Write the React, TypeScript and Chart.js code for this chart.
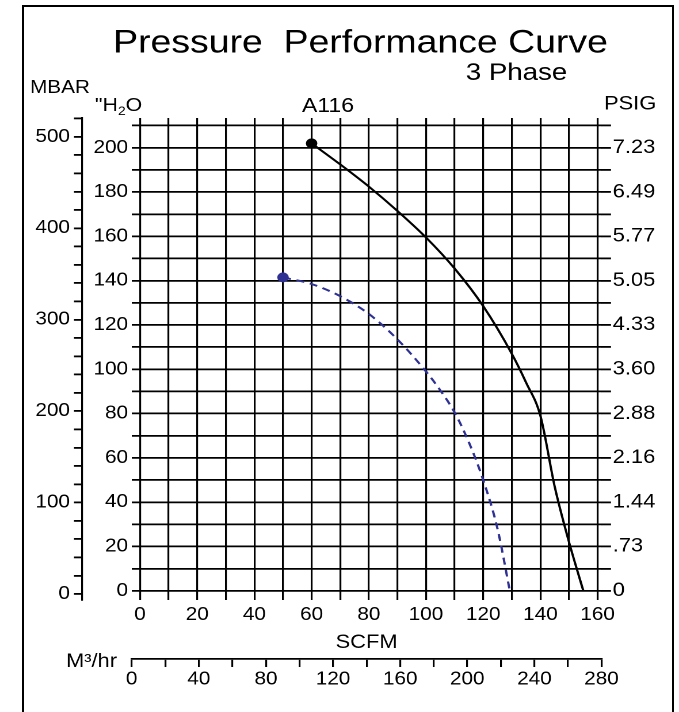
import React, { useEffect, useRef } from 'react';
import { Chart, registerables } from 'chart.js';

Chart.register(...registerables);

// ---------------- data ----------------
const scfmGrid = [0, 10, 20, 30, 40, 50, 60, 70, 80, 90, 100, 110, 120, 130, 140, 150, 160];
const h2oGrid = [0, 10, 20, 30, 40, 50, 60, 70, 80, 90, 100, 110, 120, 130, 140, 150, 160, 170, 180, 190, 200, 210];
const mbarTicks = [0, 20, 40, 60, 80, 100, 120, 140, 160, 180, 200, 220, 240, 260, 280, 300, 320, 340, 360, 380, 400, 420, 440, 460, 480, 500, 520];
const m3Ticks = [0, 20, 40, 60, 80, 100, 120, 140, 160, 180, 200, 220, 240, 260, 280];
const psigLabels = ['0', '.73', '1.44', '2.16', '2.88', '3.60', '4.33', '5.05', '5.77', '6.49', '7.23'];

const solidFlow = [60, 70, 80, 90, 100, 110, 120, 130, 135, 140, 145, 150, 155];
const solidPressure = [202, 192.5, 182.5, 171.5, 159.5, 145.5, 128.5, 107, 94, 79, 47, 22, 0];

const dashedFlow = [50, 60, 70, 80, 90, 100, 105, 110, 115, 120, 125, 129.3];
const dashedPressure = [141.5, 138.5, 133, 125, 113.5, 99, 90.5, 80.5, 67, 50, 28, 0];

// ---------------- styling ----------------
const FONT = '"Liberation Sans", Arial, Helvetica, sans-serif';
const BUF_W = 590;
const BUF_H = 712;
const S = 679 / BUF_W; // horizontal stretch of the sheet
const px = (x: number) => x / S;

type Txt = { text: string; x: number; y: number; size: number; align: CanvasTextAlign };
const sheetTexts: Txt[] = [
  { text: 'Pressure  Performance Curve', x: 360.5, y: 52.5, size: 32.5, align: 'center' },
  { text: '3 Phase', x: 516.5, y: 80, size: 24, align: 'center' },
  { text: 'A116', x: 302, y: 112, size: 20, align: 'left' },
  { text: 'MBAR', x: 30, y: 93, size: 18, align: 'left' },
  { text: 'PSIG', x: 604, y: 109.5, size: 19, align: 'left' },
  { text: 'M³/hr', x: 66, y: 667, size: 19, align: 'left' },
];

const sheetLabels = {
  id: 'sheetLabels',
  afterDraw(chart: any) {
    const ctx: CanvasRenderingContext2D = chart.ctx;
    ctx.save();
    ctx.fillStyle = '#000';
    ctx.textBaseline = 'alphabetic';
    for (const t of sheetTexts) {
      ctx.font = `${t.size}px ${FONT}`;
      ctx.textAlign = t.align;
      ctx.fillText(t.text, px(t.x), t.y);
    }
    // "H2O with subscript
    ctx.textAlign = 'left';
    let x = px(95);
    ctx.font = `18.5px ${FONT}`;
    ctx.fillText('"H', x, 111);
    x += ctx.measureText('"H').width;
    ctx.font = `12px ${FONT}`;
    ctx.fillText('2', x, 115);
    x += ctx.measureText('2').width;
    ctx.font = `18.5px ${FONT}`;
    ctx.fillText('O', x, 111);
    ctx.restore();
  },
};

const tickFont = (size: number) => ({ family: FONT, size });

export default function App() {
  const ref = useRef<HTMLCanvasElement>(null);

  useEffect(() => {
    const canvas = ref.current;
    if (!canvas) return;
    const chart = new Chart(canvas, {
      type: 'line',
      data: {
        datasets: [
          {
            label: 'A116 solid',
            data: solidFlow.map((x, i) => ({ x, y: solidPressure[i] })),
            borderColor: '#000',
            backgroundColor: '#000',
            borderWidth: 2,
            pointRadius: (c: any) => (c.dataIndex === 0 ? 5 : 0),
            pointBorderWidth: 0,
            pointBackgroundColor: '#000',
            cubicInterpolationMode: 'monotone',
            fill: false,
          },
          {
            label: 'A116 dashed',
            data: dashedFlow.map((x, i) => ({ x, y: dashedPressure[i] })),
            borderColor: '#2e3192',
            backgroundColor: '#2e3192',
            borderWidth: 2,
            borderDash: [7, 5],
            pointRadius: (c: any) => (c.dataIndex === 0 ? 5 : 0),
            pointBorderWidth: 0,
            pointBackgroundColor: '#2e3192',
            cubicInterpolationMode: 'monotone',
            fill: false,
          },
        ],
      },
      options: {
        responsive: false,
        devicePixelRatio: 2,
        animation: false,
        events: [],
        layout: { padding: { left: 10, right: 8, top: 118, bottom: 13 } },
        plugins: {
          legend: { display: false },
          tooltip: { enabled: false },
          title: { display: false },
        },
        scales: {
          x: {
            type: 'linear',
            axis: 'x',
            position: 'bottom',
            min: -2.9,
            max: 161.36,
            afterBuildTicks: (s: any) => {
              s.ticks = scfmGrid.map((v) => ({ value: v }));
            },
            afterFit: (s: any) => {
              s.height = 59;
            },
            ticks: {
              autoSkip: false,
              maxRotation: 0,
              padding: 4.2,
              color: '#000',
              font: tickFont(18),
              callback: (v: any) => (v % 20 === 0 ? String(v) : ''),
            },
            grid: { color: '#000', lineWidth: 1.6, drawTicks: false },
            border: { display: false },
            title: {
              display: true,
              text: 'SCFM',
              color: '#000',
              font: tickFont(19),
              padding: { top: 0, bottom: 4.6 },
            },
          },
          m3: {
            type: 'linear',
            axis: 'x',
            position: 'bottom',
            weight: 1,
            min: 0,
            max: 280,
            afterBuildTicks: (s: any) => {
              s.ticks = m3Ticks.map((v) => ({ value: v }));
            },
            afterFit: (s: any) => {
              s.height = 40;
            },
            ticks: {
              autoSkip: false,
              maxRotation: 0,
              padding: 1.5,
              color: '#000',
              font: tickFont(18),
              callback: (v: any) => (v % 40 === 0 ? String(v) : ''),
            },
            grid: { drawOnChartArea: false, drawTicks: true, tickLength: 8, color: '#000', lineWidth: 1.6 },
            border: { display: true, color: '#000', width: 1.8 },
          },
          y: {
            type: 'linear',
            axis: 'y',
            position: 'left',
            weight: 0,
            min: -4.15,
            max: 213.45,
            afterBuildTicks: (s: any) => {
              s.ticks = h2oGrid.map((v) => ({ value: v }));
            },
            afterFit: (s: any) => {
              s.width = 43.19;
            },
            ticks: {
              autoSkip: false,
              padding: 3.2,
              color: '#000',
              font: tickFont(18),
              callback: (v: any) => (v % 20 === 0 && v <= 200 ? String(v) : ''),
            },
            grid: { color: '#000', lineWidth: 1.8, drawTicks: false },
            border: { display: false },
          },
          mbar: {
            type: 'linear',
            axis: 'y',
            position: 'left',
            weight: 1,
            min: -6.56,
            max: 520.55,
            afterBuildTicks: (s: any) => {
              s.ticks = mbarTicks.map((v) => ({ value: v }));
            },
            afterFit: (s: any) => {
              s.width = 61.25;
            },
            ticks: {
              autoSkip: false,
              padding: 3.5,
              color: '#000',
              font: tickFont(18),
              callback: (v: any) => (v % 100 === 0 ? String(v) : ''),
            },
            grid: { drawOnChartArea: false, drawTicks: true, tickLength: 7, color: '#000', lineWidth: 1.8 },
            border: { display: true, color: '#000', width: 1.6 },
          },
          psig: {
            type: 'linear',
            axis: 'y',
            position: 'right',
            min: -4.15,
            max: 213.45,
            afterBuildTicks: (s: any) => {
              s.ticks = h2oGrid.map((v) => ({ value: v }));
            },
            afterFit: (s: any) => {
              s.width = 59.34;
            },
            ticks: {
              autoSkip: false,
              padding: 1.5,
              color: '#000',
              font: tickFont(19),
              callback: (v: any) => (v % 20 === 0 && v <= 200 ? psigLabels[v / 20] : ''),
            },
            grid: { drawOnChartArea: false, drawTicks: true, tickLength: 8.25, color: '#000', lineWidth: 1.8 },
            border: { display: false },
          },
        },
      } as any,
      plugins: [sheetLabels],
    } as any);
    return () => chart.destroy();
  }, []);

  return (
    <>
      <div
        style={{
          position: 'fixed',
          left: 22,
          top: 5,
          width: 652,
          height: 707,
          boxSizing: 'border-box',
          borderTop: '2px solid #000',
          borderLeft: '2px solid #000',
          borderRight: '2px solid #000',
          pointerEvents: 'none',
        }}
      />
      <canvas
        ref={ref}
        width={BUF_W}
        height={BUF_H}
        style={{ position: 'fixed', left: 0, top: 0, width: '679px', height: '712px' }}
      />
    </>
  );
}
